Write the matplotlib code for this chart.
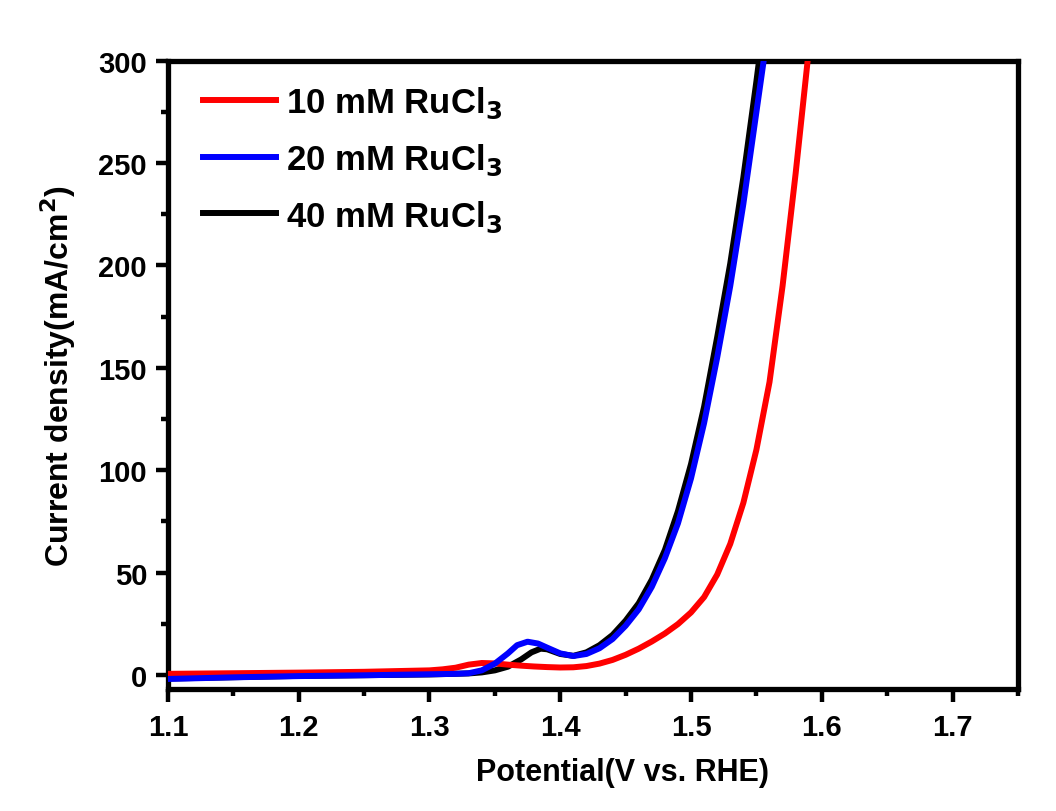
import matplotlib
matplotlib.use("Agg")
import matplotlib.pyplot as plt
from matplotlib.ticker import MultipleLocator

plt.rcParams["font.family"] = ["Liberation Sans", "DejaVu Sans"]
plt.rcParams["font.weight"] = "bold"
plt.rcParams["mathtext.default"] = "bf"

# --- 読み取り値 (V vs. RHE, mA/cm2) ---
v_10 = [1.10, 1.15, 1.20, 1.25, 1.30, 1.31, 1.32, 1.33, 1.34, 1.35, 1.36, 1.37,
        1.38, 1.39, 1.40, 1.41, 1.42, 1.43, 1.44, 1.45, 1.46, 1.47, 1.48, 1.49,
        1.50, 1.51, 1.52, 1.53, 1.54, 1.55, 1.56, 1.57, 1.58, 1.59]
j_10 = [0.5, 0.8, 1.1, 1.5, 2.2, 2.7, 3.5, 5.0, 5.8, 5.6, 5.0, 4.5,
        4.1, 3.8, 3.6, 3.7, 4.3, 5.5, 7.3, 9.8, 12.8, 16.3, 20.2, 24.8,
        30.5, 38, 49, 64, 84, 110, 143, 190, 245, 305]

v_20 = [1.10, 1.15, 1.20, 1.25, 1.30, 1.32, 1.33, 1.34, 1.35, 1.36, 1.367, 1.375,
        1.383, 1.39, 1.40, 1.41, 1.42, 1.43, 1.44, 1.45, 1.46, 1.47, 1.48, 1.49,
        1.50, 1.51, 1.52, 1.53, 1.54, 1.55, 1.556]
j_20 = [-2, -1.2, -0.6, -0.2, 0.3, 0.5, 0.8, 2.2, 5.5, 10.5, 14.5, 16.2,
        15.3, 13.3, 10.5, 9.2, 10.2, 13, 17.5, 24, 32, 43, 57, 74,
        96, 123, 155, 190, 230, 275, 302]

v_40 = [1.10, 1.20, 1.30, 1.33, 1.34, 1.35, 1.36, 1.37, 1.378, 1.385, 1.39, 1.40,
        1.41, 1.42, 1.43, 1.44, 1.45, 1.46, 1.47, 1.48, 1.49, 1.50, 1.51, 1.52,
        1.53, 1.54, 1.55, 1.553]
j_40 = [-1.8, -0.5, 0.2, 0.7, 1.2, 2.2, 4.0, 7.5, 11, 12.8, 12.5, 10.2,
        9.3, 11, 14.5, 19.5, 26.5, 35, 46.5, 61, 80, 103, 131, 165,
        201, 243, 290, 305]

labels = ["10 mM RuCl$_3$", "20 mM RuCl$_3$", "40 mM RuCl$_3$"]

fig = plt.figure(figsize=(10.56, 8.12), dpi=100)
ax = fig.add_axes([0.159, 0.150, 0.805, 0.774])

lw = 4.3
l40, = ax.plot(v_40, j_40, color="black", lw=lw, zorder=2)
l10, = ax.plot(v_10, j_10, color="#ff0000", lw=lw, zorder=3)
l20, = ax.plot(v_20, j_20, color="#0000ff", lw=lw, zorder=4)

ax.set_xlim(1.1, 1.75)
ax.set_ylim(-7, 300)
ax.xaxis.set_minor_locator(MultipleLocator(0.05))
ax.yaxis.set_major_locator(MultipleLocator(50))
ax.yaxis.set_minor_locator(MultipleLocator(25))
ax.set_xticks([1.1, 1.2, 1.3, 1.4, 1.5, 1.6, 1.7])
ax.set_xticklabels(["1.1", "1.2", "1.3", "1.4", "1.5", "1.6", "1.7"])

for s in ax.spines.values():
    s.set_linewidth(3.8)
ax.tick_params(which="major", direction="out", length=9, width=3.2,
               labelsize=21, pad=6)
ax.tick_params(axis="x", which="major", pad=8)
ax.tick_params(which="minor", direction="out", length=5, width=3.2)

ax.set_xlabel("Potential(V vs. RHE)", fontsize=22, fontweight="bold")
ax.xaxis.set_label_coords(0.535, -0.132)
ax.xaxis.label.set_va("center")
ax.set_ylabel("Current density(mA/cm$^2$)", fontsize=23, fontweight="bold")
ax.yaxis.set_label_coords(-0.129, 0.50)
ax.yaxis.label.set_va("center")

leg = ax.legend([l10, l20, l40], labels, loc="upper left", frameon=False,
                fontsize=25, handlelength=2.1, handletextpad=0.3,
                labelspacing=0.62, borderaxespad=0.0, borderpad=0.0,
                bbox_to_anchor=(0.041, 0.962))

fig.savefig("out.png", dpi=100, facecolor="white")
